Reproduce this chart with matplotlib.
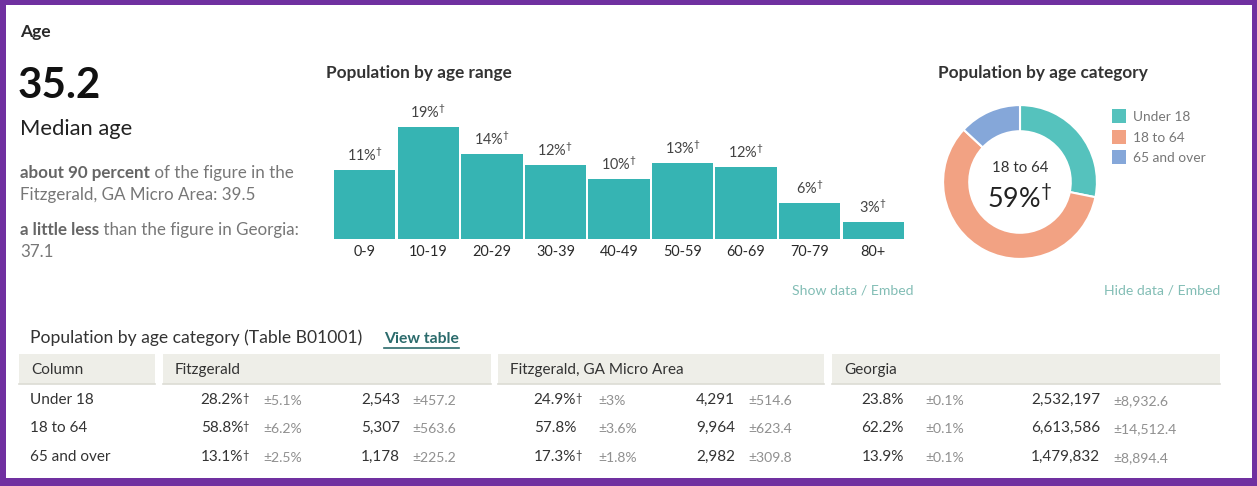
import matplotlib
matplotlib.use('Agg')
import matplotlib.pyplot as plt
from matplotlib.patches import Rectangle

plt.rcParams['font.family'] = ['Lato', 'DejaVu Sans']
plt.rcParams['mathtext.fontset'] = 'custom'
plt.rcParams['mathtext.rm'] = 'Lato'
plt.rcParams['mathtext.it'] = 'Lato:italic'
plt.rcParams['mathtext.bf'] = 'Lato:bold'
plt.rcParams['mathtext.default'] = 'regular'

W, H = 1257, 486
PT = 0.72  # points per pixel at dpi 100

# ---------------- data ----------------
median_age = "35.2"
micro_median = "39.5"
state_median = "37.1"

age_ranges = ['0-9', '10-19', '20-29', '30-39', '40-49', '50-59', '60-69', '70-79', '80+']
age_pct = [11.5, 18.6, 14.1, 12.3, 10.0, 12.6, 12.0, 6.0, 2.8]
age_pct_labels = ['11%', '19%', '14%', '12%', '10%', '13%', '12%', '6%', '3%']

cat_names = ['Under 18', '18 to 64', '65 and over']
cat_pct = [28.2, 58.8, 13.1]
cat_colors = ['#55c2bd', '#f2a283', '#85a7d9']
highlight_label = '18 to 64'
highlight_value = '59%'

places = ['Fitzgerald', 'Fitzgerald, GA Micro Area', 'Georgia']
row_labels = ['Under 18', '18 to 64', '65 and over']

fitz_pct = ['28.2%', '58.8%', '13.1%']
fitz_pct_dag = [True, True, True]
fitz_pct_moe = ['±5.1%', '±6.2%', '±2.5%']
fitz_count = ['2,543', '5,307', '1,178']
fitz_count_moe = ['±457.2', '±563.6', '±225.2']

micro_pct = ['24.9%', '57.8%', '17.3%']
micro_pct_dag = [True, False, True]
micro_pct_moe = ['±3%', '±3.6%', '±1.8%']
micro_count = ['4,291', '9,964', '2,982']
micro_count_moe = ['±514.6', '±623.4', '±309.8']

ga_pct = ['23.8%', '62.2%', '13.9%']
ga_pct_dag = [False, False, False]
ga_pct_moe = ['±0.1%', '±0.1%', '±0.1%']
ga_count = ['2,532,197', '6,613,586', '1,479,832']
ga_count_moe = ['±8,932.6', '±14,512.4', '±8,894.4']

# ---------------- figure ----------------
fig = plt.figure(figsize=(W / 100, H / 100), dpi=100)
fig.patch.set_facecolor('white')
bg = fig.add_axes([0, 0, 1, 1])
bg.set_xlim(0, W)
bg.set_ylim(H, 0)
bg.axis('off')

PURPLE = '#7030a0'
for r in [(0, 0, 6, H), (0, 0, W, 5), (W - 5, 0, 5, H), (0, H - 8, W, 8)]:
    bg.add_patch(Rectangle(r[:2], r[2], r[3], facecolor=PURPLE, edgecolor='none'))


def T(x, y, s, px, color='#333333', weight='normal', ha='left', va='baseline', **kw):
    return bg.text(x, y, s, fontsize=px * PT, color=color, fontweight=weight,
                   ha=ha, va=va, **kw)


def after(t, s, px, color='#333333', weight='normal'):
    return bg.annotate(s, xy=(1, 0), xycoords=t, ha='left', va='bottom',
                       fontsize=px * PT, color=color, fontweight=weight)


def dagger(t, px, color='#333333'):
    return bg.annotate('†', xy=(1, 1.0), xycoords=t, xytext=(-0.5 * PT, 0),
                       textcoords='offset points', ha='left', va='top',
                       fontsize=px * PT, color=color)


# ---------------- left summary ----------------
T(20, 37, 'Age', 17.5, '#2a2a2a', 'bold')
T(18, 98, median_age, 42, '#111111', 'bold')
T(20, 135, 'Median age', 22, '#222222')
t = T(20, 178, 'about 90 percent', 17, '#666666', 'bold')
after(t, ' of the figure in the', 17, '#777777')
T(20, 200, f'Fitzgerald, GA Micro Area: {micro_median}', 17, '#777777')
t = T(20, 235, 'a little less', 17, '#666666', 'bold')
after(t, ' than the figure in Georgia:', 17, '#777777')
T(20, 257, state_median, 17, '#777777')

# ---------------- bar chart ----------------
T(326, 78, 'Population by age range', 17.3, '#333333', 'bold')
bx0, bx1, by0, by1 = 333, 905, 239, 100
axb = fig.add_axes([bx0 / W, (H - by0) / H, (bx1 - bx0) / W, (by0 - by1) / H])
px_per_pct = 6.01
axb.set_xlim(-0.5, len(age_ranges) - 0.5)
axb.set_ylim(0, (by0 - by1) / px_per_pct)
bars = axb.bar(range(len(age_ranges)), age_pct, width=0.965, color='#36b4b3')
for i, (v, lab) in enumerate(zip(age_pct, age_pct_labels)):
    axb.annotate(lab + '$^{†}$', xy=(i, v), xytext=(0, 9 * PT), textcoords='offset points',
                 ha='center', va='baseline', fontsize=14.5 * PT, color='#444444')
axb.set_xticks(range(len(age_ranges)), age_ranges)
axb.tick_params(axis='x', length=0, pad=6 * PT, labelsize=14.5 * PT, labelcolor='#2a2a2a')
axb.set_yticks([])
for s in axb.spines.values():
    s.set_visible(False)
axb.patch.set_alpha(0)
T(913, 294, 'Show data / Embed', 14, '#82bdb5', ha='right')

# ---------------- donut ----------------
T(938, 78, 'Population by age category', 17.3, '#333333', 'bold')
cx, cy, box = 1020, 182, 160
axd = fig.add_axes([(cx - box / 2) / W, (H - cy - box / 2) / H, box / W, box / H])
axd.pie(cat_pct, colors=cat_colors, startangle=90, counterclock=False, radius=1,
        wedgeprops=dict(width=0.34, edgecolor='white', linewidth=1.5))
axd.set_xlim(-1.04, 1.04)
axd.set_ylim(-1.04, 1.04)
axd.set_aspect('equal')
axd.axis('off')
T(cx, 172, highlight_label, 15, '#333333', ha='center')
T(cx, 208, highlight_value + '$^{†}$', 27, '#222222', ha='center')

for i, (name, col) in enumerate(zip(cat_names, cat_colors)):
    yc = 116 + i * 20.5
    bg.add_patch(Rectangle((1112, yc - 7), 14, 14, facecolor=col, edgecolor='none'))
    T(1133, yc + 5, name, 13.8, '#777777')
T(1220, 294, 'Hide data / Embed', 14, '#82bdb5', ha='right')

# ---------------- table ----------------
t = T(30, 343, 'Population by age category (Table B01001)', 17.5, '#333333')
vt = T(384, 343, 'View table', 15.8, '#2b6b6c', 'bold')
fig.canvas.draw()
bb = vt.get_window_extent().transformed(bg.transData.inverted())
bg.plot([bb.x0, bb.x1], [348, 348], color='#2b6b6c', lw=1.2)

header_boxes = [(19, 155, 'Column'), (163, 491, places[0]), (498, 824, places[1]), (832, 1220, places[2])]
for x0, x1, lab in header_boxes:
    bg.add_patch(Rectangle((x0, 354), x1 - x0, 30, facecolor='#eeeee8', edgecolor='none'))
    bg.plot([x0, x1], [384, 384], color='#dcdcd4', lw=1.2)
    T(x0 + 12, 374, lab, 15.3, '#333333')

row_y = [404, 432, 461]
blocks = [
    (243, 263, 400, 412, fitz_pct, fitz_pct_dag, fitz_pct_moe, fitz_count, fitz_count_moe),
    (576, 598, 735, 748, micro_pct, micro_pct_dag, micro_pct_moe, micro_count, micro_count_moe),
    (904, 925, 1100, 1113, ga_pct, ga_pct_dag, ga_pct_moe, ga_count, ga_count_moe),
]
for r, y in enumerate(row_y):
    T(30, y, row_labels[r], 15.3, '#333333')
    for (xp, xpm, xc, xcm, pct, dag, pmoe, cnt, cmoe) in blocks:
        tp = T(xp, y, pct[r], 15.3, '#333333', ha='right')
        if dag[r]:
            dagger(tp, 11, '#333333')
        T(xpm, y + 1, pmoe[r], 14, '#909090')
        T(xc, y, cnt[r], 15.3, '#333333', ha='right')
        T(xcm, y + 1, cmoe[r], 14, '#909090')

fig.savefig('out.png', dpi=100, facecolor='white')
